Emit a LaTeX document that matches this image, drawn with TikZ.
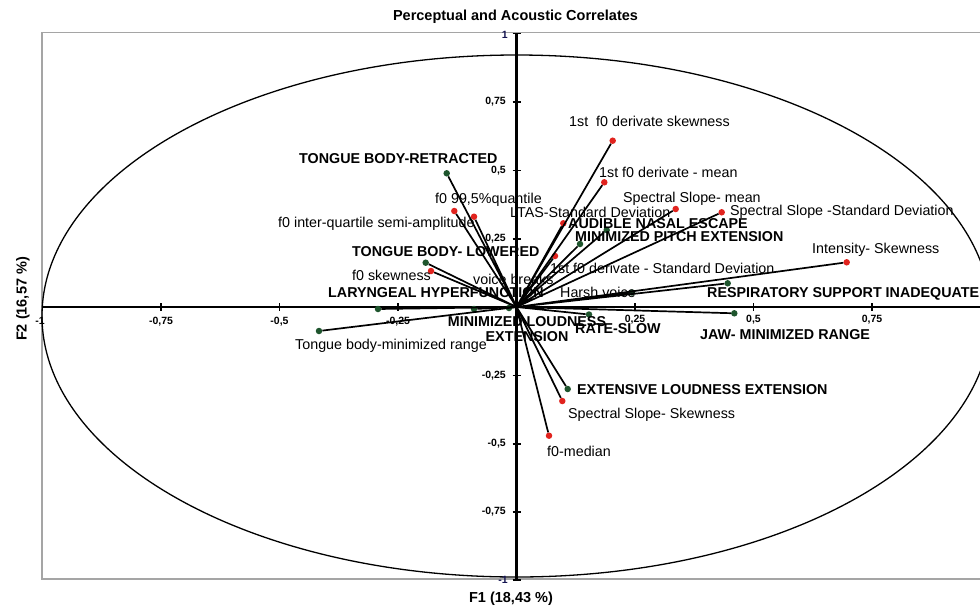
\documentclass[tikz,border=0pt]{standalone}
\usepackage{fontspec}
\setmainfont{Liberation Sans}
\usepackage{tikz}
\usetikzlibrary{positioning}
\definecolor{acoucolor}{RGB}{225, 35, 30}
\definecolor{perccolor}{RGB}{30, 85, 45}
\definecolor{framecolor}{RGB}{165, 165, 165}
\definecolor{tickcolor}{RGB}{20, 20, 80}

\begin{document}
\begin{tikzpicture}[x=1pt, y=-1pt,
    acou/.style={circle, fill=acoucolor, inner sep=0pt, minimum size=6.5pt},
    perc/.style={circle, fill=perccolor, inner sep=0pt, minimum size=6.5pt},
    vec/.style={line width=1.7pt},
    lbl/.style={font=\fontsize{14.3}{15}\selectfont, inner sep=0pt},
    caps/.style={font=\fontsize{14.3}{15}\selectfont\bfseries, inner sep=0pt},
    ticklbl/.style={font=\fontsize{10.5}{12}\selectfont\bfseries, inner sep=0pt},
    axislbl/.style={font=\fontsize{14.5}{16}\selectfont\bfseries, inner sep=0pt}]
        \useasboundingbox (0,0) rectangle (980,606);
        \clip (0,0) rectangle (980,606);
        % Frame and correlation circle
        \draw[framecolor, line width=1.5pt] (995,32.5) -- (42,32.5) -- (42,579) -- (995,579);
        \draw[line width=1.3pt] (516.5,316) ellipse [x radius=474.5, y radius=261];
        % Axes with ticks
        \draw[line width=2.2pt] (42,307) -- (995,307);
        \draw[line width=2.2pt] (516.5,33.5) -- (516.5,580);
        \draw[line width=1.6pt] (161,303) -- (161,311) (279.5,303) -- (279.5,311) (398,303) -- (398,311)
            (635,303) -- (635,311) (753.5,303) -- (753.5,311) (872,303) -- (872,311);
        \draw[line width=1.6pt] (512.5,33.5) -- (520.5,33.5) (512.5,102) -- (520.5,102) (512.5,170.3) -- (520.5,170.3)
            (512.5,238.7) -- (520.5,238.7) (512.5,375.3) -- (520.5,375.3) (512.5,443.7) -- (520.5,443.7)
            (512.5,512) -- (520.5,512) (512.5,580) -- (520.5,580);
        \node[ticklbl, anchor=east] (xm1) at (45,321) {-1};
        \node[ticklbl] (xm75) at (161,322) {-0,75};
        \node[ticklbl] (xm5) at (279.5,322) {-0,5};
        \node[ticklbl] (xm25) at (398,322) {-0,25};
        \node[ticklbl] (xp25) at (635,320) {0,25};
        \node[ticklbl] (xp5) at (753.5,320) {0,5};
        \node[ticklbl] (xp75) at (872,320) {0,75};
        \node[ticklbl, anchor=east, tickcolor] (yp1) at (508,35) {1};
        \node[ticklbl, anchor=east] (yp75) at (506,102) {0,75};
        \node[ticklbl, anchor=east] (yp5) at (506,170.3) {0,5};
        \node[ticklbl, anchor=east] (yp25) at (506,238.7) {0,25};
        \node[ticklbl, anchor=east] (ym25) at (506,375.3) {-0,25};
        \node[ticklbl, anchor=east] (ym5) at (506,443.7) {-0,5};
        \node[ticklbl, anchor=east] (ym75) at (506,512) {-0,75};
        \node[ticklbl, anchor=east, tickcolor] (ym1) at (508,580) {-1};
        % Titles
        \node[axislbl] (title) at (515.5,17) {Perceptual and Acoustic Correlates};
        \node[axislbl] (f1) at (511,599) {F1 (18,43 \%)};
        \node[axislbl, rotate=90] (f2) at (23,299) {F2 (16,57 \%)};
        % Variable end points
        \coordinate (o) at (516.5,307);
        \node[perc] (tbr) at (446.7,173.3) {};
        \node[acou] (fq) at (474,216.7) {};
        \node[acou] (fiq) at (454.3,211) {};
        \node[perc] (tbl) at (425.7,262.7) {};
        \node[acou] (fsk) at (431,271) {};
        \node[perc] (lh) at (378,309) {};
        \node[perc] (ml) at (474,309) {};
        \node[perc] (vb) at (509,308) {};
        \node[acou] (dsk) at (612.7,140.7) {};
        \node[acou] (dmean) at (604.3,182.3) {};
        \node[acou] (ssmean) at (675.7,209) {};
        \node[acou] (sssd) at (721.7,212.3) {};
        \node[acou] (ltas) at (563.3,223.3) {};
        \node[perc] (ane) at (606.7,230) {};
        \node[perc] (mpe) at (580,244) {};
        \node[acou] (dsd) at (555,256) {};
        \node[acou] (isk) at (846.7,262.3) {};
        \node[perc] (rsi) at (727.7,283.3) {};
        \node[perc] (hv) at (632,292.5) {};
        \node[perc] (jaw) at (734.3,313.3) {};
        \node[perc] (rs) at (589,314.5) {};
        \node[perc] (ele) at (567.7,389) {};
        \node[acou] (sssk) at (562.3,401) {};
        \node[acou] (fmed) at (549,435.7) {};
        \node[perc] (tbm) at (319,331) {};
        % Vectors
        \draw[vec] (o) -- (tbr) (o) -- (fq) (o) -- (fiq) (o) -- (tbl) (o) -- (fsk) (o) -- (lh) (o) -- (ml) (o) -- (vb);
        \draw[vec] (o) -- (dsk) (o) -- (dmean) (o) -- (ssmean) (o) -- (sssd) (o) -- (ltas) (o) -- (ane) (o) -- (mpe);
        \draw[vec] (o) -- (dsd) (o) -- (isk) (o) -- (rsi) (o) -- (hv) (o) -- (jaw) (o) -- (rs);
        \draw[vec] (o) -- (ele) (o) -- (sssk) (o) -- (fmed) (o) -- (tbm);
        % Labels
        \node[caps, anchor=west] (tbr-l) at (299,159) {TONGUE BODY-RETRACTED};
        \node[lbl, anchor=west] (fq-l) at (435,200) {f0 99,5\%quantile};
        \node[lbl, anchor=west] (fiq-l) at (278,224) {f0 inter-quartile semi-amplitude};
        \node[caps, anchor=west] (tbl-l) at (352,252) {TONGUE BODY- LOWERED};
        \node[lbl, anchor=west] (fsk-l) at (352,275) {f0 skewness};
        \node[caps, anchor=west] (lh-l) at (328,293) {LARYNGEAL HYPERFUNCTION};
        \node[lbl, anchor=west] (vb-l) at (473,279) {voice breaks};
        \node[caps, align=center] (ml-l) at (527,329.5) {MINIMIZED LOUDNESS\\EXTENSION};
        \node[lbl, anchor=west] (dsk-l) at (569,121) {1st\ \ f0 derivate skewness};
        \node[lbl, anchor=west] (dmean-l) at (599,172) {1st f0 derivate - mean};
        \node[lbl, anchor=west] (ssmean-l) at (623,199) {Spectral Slope- mean};
        \node[lbl, anchor=west] (sssd-l) at (730,212) {Spectral Slope -Standard Deviation};
        \node[lbl, anchor=west] (ltas-l) at (510,212) {LTAS-Standard Deviation};
        \node[caps, anchor=west] (ane-l) at (568,224) {AUDIBLE NASAL ESCAPE};
        \node[caps, anchor=west] (mpe-l) at (575,237) {MINIMIZED PITCH EXTENSION};
        \node[lbl, anchor=west] (dsd-l) at (550,268) {1st f0 derivate - Standard Deviation};
        \node[lbl, anchor=west] (isk-l) at (812,250) {Intensity- Skewness};
        \node[caps, anchor=west] (rsi-l) at (707,294) {RESPIRATORY SUPPORT INADEQUATE};
        \node[lbl, anchor=west] (hv-l) at (560,292) {Harsh voice};
        \node[caps, anchor=west] (jaw-l) at (700,335) {JAW- MINIMIZED RANGE};
        \node[caps, anchor=west] (rs-l) at (575,329) {RATE-SLOW};
        \node[caps, anchor=west] (ele-l) at (577,390) {EXTENSIVE LOUDNESS EXTENSION};
        \node[lbl, anchor=west] (sssk-l) at (568,415) {Spectral Slope- Skewness};
        \node[lbl, anchor=west] (fmed-l) at (547,451) {f0-median};
        \node[lbl, anchor=west] (tbm-l) at (295,346) {Tongue body-minimized range};
    \end{tikzpicture}
\end{document}
